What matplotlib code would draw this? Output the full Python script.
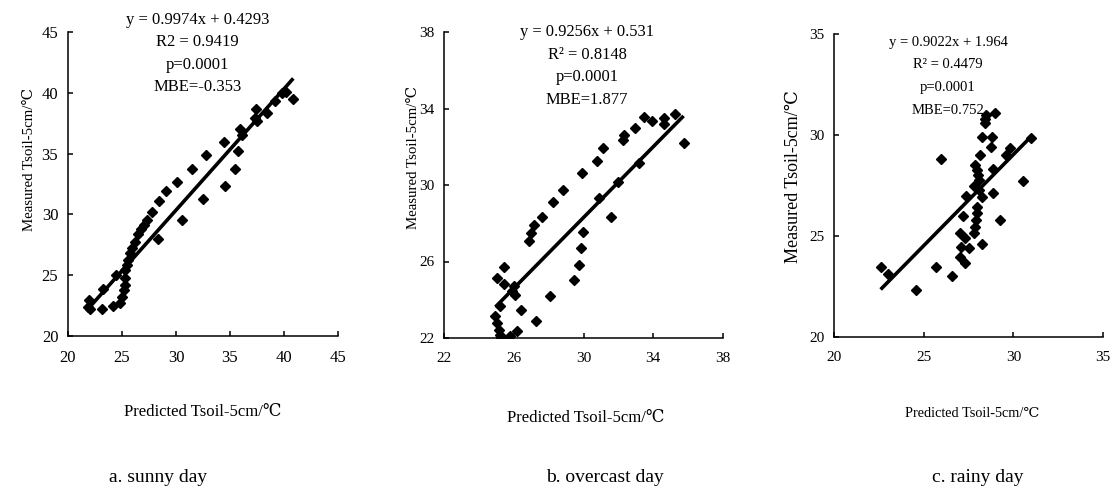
import numpy as np
import matplotlib
matplotlib.use("Agg")
import matplotlib.pyplot as plt

plt.rcParams['font.family'] = ['Liberation Serif', 'DejaVu Serif', 'DejaVu Sans']

# --- data (predicted, measured), deg C ---
sunny_pred = [21.9, 21.85, 22.0, 23.15, 23.2, 24.2, 24.4, 24.85, 25.0, 25.15,
              25.3, 25.25, 25.3, 25.46, 25.6, 25.77, 25.9, 26.2, 26.5, 26.8,
              27.0, 27.3, 27.8, 28.45, 29.07, 30.06, 31.45, 32.78, 34.47, 35.9,
              36.1, 37.37, 37.3, 37.5, 38.4, 39.2, 39.8, 40.2, 40.86, 35.7,
              35.46, 34.54, 32.53, 30.6, 28.3]
sunny_meas = [22.96, 22.4, 22.2, 22.2, 23.9, 22.5, 25.0, 22.7, 23.2, 23.8,
              24.2, 24.8, 25.4, 25.8, 26.25, 26.8, 27.2, 27.75, 28.4, 28.8,
              29.1, 29.5, 30.2, 31.1, 31.95, 32.7, 33.7, 34.9, 35.97, 37.0,
              36.5, 38.7, 37.96, 37.7, 38.3, 39.3, 40.0, 40.1, 39.46, 35.2,
              33.7, 32.3, 31.3, 29.54, 28.0]

overcast_pred = [24.95, 25.05, 25.14, 25.2, 25.25, 25.8, 26.2, 26.43, 27.25, 28.07,
                 25.06, 25.43, 25.43, 25.24, 26.0, 25.9, 26.1, 26.87, 27.0, 27.15,
                 27.6, 28.23, 28.84, 29.9, 30.8, 31.14, 32.25, 32.35, 32.96, 33.48,
                 33.95, 34.63, 34.63, 35.26, 35.74, 33.2, 32.0, 30.9, 31.6, 29.99,
                 29.86, 29.76, 29.47]
overcast_meas = [23.13, 22.78, 22.43, 22.17, 22.0, 22.08, 22.35, 23.45, 22.87, 24.18,
                 25.14, 25.7, 24.8, 23.65, 24.7, 24.44, 24.27, 27.06, 27.5, 27.93,
                 28.33, 29.1, 29.76, 30.64, 31.28, 31.95, 32.35, 32.6, 32.99, 33.57,
                 33.34, 33.48, 33.2, 33.69, 32.17, 31.16, 30.15, 29.33, 28.33, 27.55,
                 26.68, 25.8, 25.05]

rainy_pred = [22.6, 23.03, 24.57, 25.67, 25.95, 26.6, 27.02, 27.1, 27.02, 27.3,
              27.3, 27.17, 27.35, 27.5, 27.8, 27.85, 27.9, 27.95, 28.0, 28.13,
              27.85, 27.95, 28.05, 28.1, 28.1, 28.23, 28.23, 28.4, 28.5, 28.97,
              28.8, 28.78, 28.87, 28.87, 28.28, 29.28, 29.8, 29.6, 30.55, 31.0,
              27.8, 28.4]
rainy_meas = [23.47, 23.1, 22.35, 23.45, 28.83, 23.0, 25.13, 24.46, 23.97, 23.64,
              24.9, 25.99, 26.98, 24.4, 25.13, 25.46, 25.79, 26.12, 26.45, 29.01,
              28.52, 28.27, 28.02, 27.78, 27.28, 26.95, 29.92, 30.58, 31.0, 31.11,
              29.92, 29.42, 28.3, 27.11, 24.6, 25.79, 29.35, 29.0, 27.74, 29.84,
              27.5, 30.8]

# fitted lines as printed on the chart
fits = {
    'sunny': (0.9974, 0.4293),
    'overcast': (0.9256, 0.531),
    'rainy': (0.9022, 1.964),
}
stats_text = {
    'sunny': ['y = 0.9974x + 0.4293', 'R2 = 0.9419', 'p=0.0001', 'MBE=-0.353'],
    'overcast': ['y = 0.9256x + 0.531', 'R\u00b2 = 0.8148', 'p=0.0001', 'MBE=1.877'],
    'rainy': ['y = 0.9022x + 1.964', 'R\u00b2 = 0.4479', 'p=0.0001', 'MBE=0.752'],
}
axis_ticks = {
    'sunny': [20, 25, 30, 35, 40, 45],
    'overcast': [22, 26, 30, 34, 38],
    'rainy': [20, 25, 30, 35],
}
captions = ['a. sunny day', 'b. overcast day', 'c. rainy day']

XLABEL = 'Predicted Tsoil-5cm/\u2103'
YLABEL = 'Measured Tsoil-5cm/\u2103'


def draw_panel(ax, key, pred, meas, tick_fs, lab_fs, ylab_fs, txt_fs,
               text_x, text_y, text_dy, ylab_pos, xlab_pos):
    ticks = axis_ticks[key]
    ax.plot(pred, meas, linestyle='none', marker='D', markersize=5.2,
            color='black', zorder=3)

    slope, icpt = fits[key]
    xs = np.array([min(pred), max(pred)])
    ax.plot(xs, slope * xs + icpt, color='black', linewidth=2.6,
            solid_capstyle='butt', zorder=2)

    ax.set_xlim(ticks[0], ticks[-1])
    ax.set_ylim(ticks[0], ticks[-1])
    ax.set_xticks(ticks)
    ax.set_yticks(ticks)
    ax.tick_params(direction='in', length=3.5, width=1.1, labelsize=tick_fs)
    ax.tick_params(axis='x', pad=10)
    ax.tick_params(axis='y', pad=7)
    for side in ['top', 'right']:
        ax.spines[side].set_visible(False)
    for side in ['left', 'bottom']:
        ax.spines[side].set_linewidth(1.1)

    ax.set_xlabel(XLABEL, fontsize=lab_fs)
    ax.set_ylabel(YLABEL, fontsize=ylab_fs)
    ax.xaxis.set_label_coords(*xlab_pos)
    ax.yaxis.set_label_coords(*ylab_pos)

    for i, line in enumerate(stats_text[key]):
        ax.text(text_x, text_y - i * text_dy, line, transform=ax.transAxes,
                ha='center', va='center', fontsize=txt_fs, clip_on=False)


fig = plt.figure(figsize=(11.19, 4.95), dpi=100)

ax_a = fig.add_axes([68 / 1119, 1 - 336 / 495, 270 / 1119, 304 / 495])
ax_b = fig.add_axes([444 / 1119, 1 - 338 / 495, 279 / 1119, 306 / 495])
ax_c = fig.add_axes([834 / 1119, 1 - 337 / 495, 269 / 1119, 303 / 495])

draw_panel(ax_a, 'sunny', sunny_pred, sunny_meas, 12, 12, 10.7, 12,
           0.48, 1.04, 0.074, (-0.118, 0.58), (0.5, -0.225))
draw_panel(ax_b, 'overcast', overcast_pred, overcast_meas, 11, 12, 10.7, 11.9,
           0.513, 1.0, 0.074, (-0.086, 0.59), (0.509, -0.235))
draw_panel(ax_c, 'rainy', rainy_pred, rainy_meas, 11, 10.3, 13, 10.5,
           0.424, 0.973, 0.075, (-0.119, 0.53), (0.513, -0.231))

for x, cap in zip([158, 605, 978], captions):
    fig.text(x / 1119, 1 - 478 / 495, cap, ha='center', va='center',
             fontsize=14)

fig.savefig('out.png', dpi=100)
